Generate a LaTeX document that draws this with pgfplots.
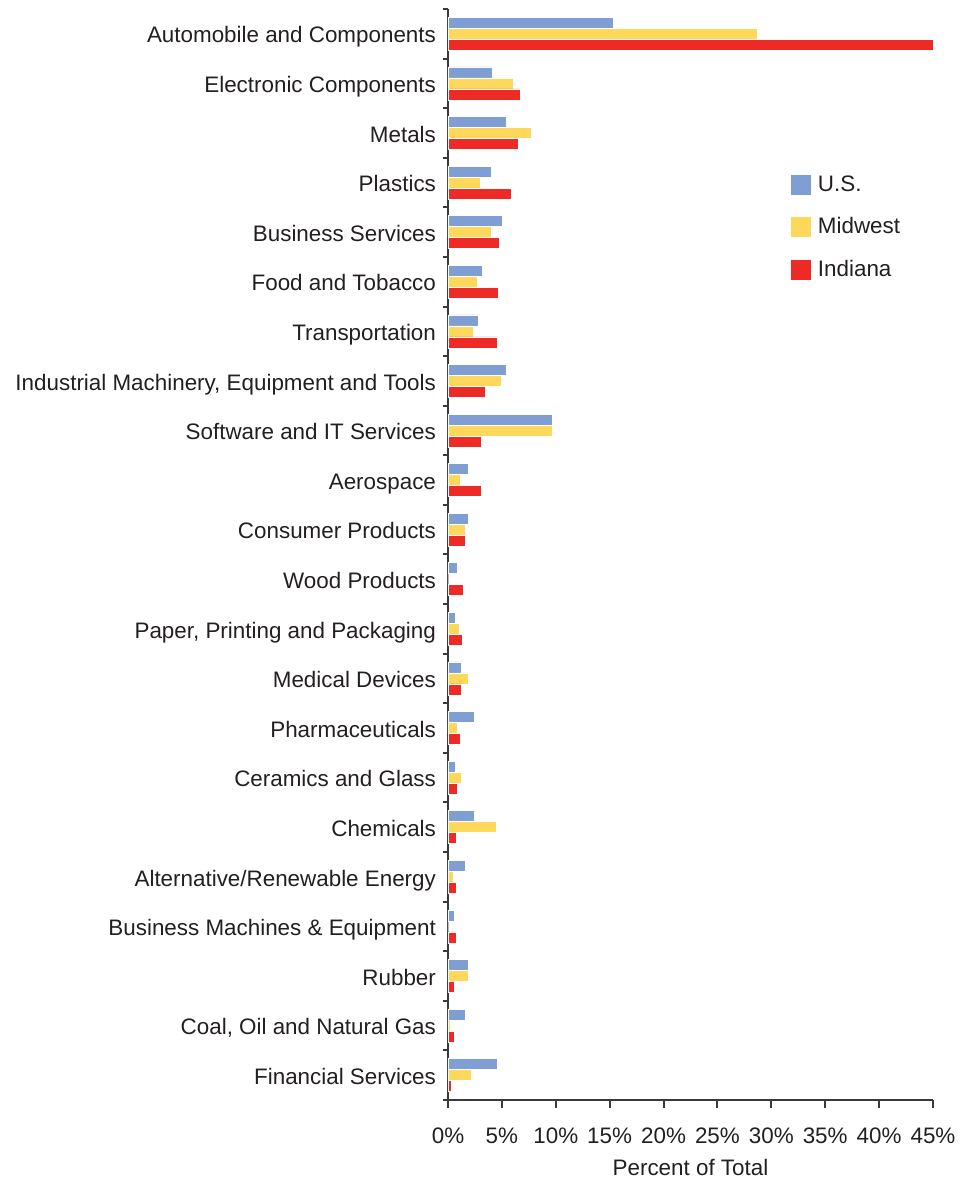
\documentclass[border=0pt]{standalone}
\usepackage{fontspec}
\setmainfont{Liberation Sans}
\usepackage{pgfplots}
\pgfplotsset{compat=1.18}
\usepackage{pgfplotstable}
\definecolor{usblue}{HTML}{7F9FD4}
\definecolor{mwyellow}{HTML}{FDD85B}
\definecolor{inred}{HTML}{EE2A27}
\definecolor{txtgray}{HTML}{231F20}
\definecolor{axgray}{HTML}{3A3A3A}

% y = 21 is the top category
\pgfplotstableread{
y  us    mw    ind
21 15.3  28.7  45.0
20 4.1   6.1   6.7
19 5.4   7.7   6.5
18 4.0   3.0   5.9
17 5.0   4.0   4.8
16 3.2   2.7   4.7
15 2.85  2.35  4.6
14 5.4   4.95  3.5
13 9.7   9.65  3.1
12 1.9   1.1   3.05
11 1.9   1.65  1.65
10 0.9   0     1.45
9  0.7   1.05  1.35
8  1.2   1.9   1.2
7  2.4   0.9   1.1
6  0.7   1.2   0.85
5  2.45  4.5   0.8
4  1.65  0.5   0.75
3  0.6   0     0.75
2  1.85  1.85  0.6
1  1.6   0.2   0.55
0  4.55  2.2   0.3
}\datatab

\begin{document}
\begin{tikzpicture}
\begin{axis}[
  scale only axis, width=242.5pt, height=545.5pt,
  xbar, bar width=5.5pt,
  xmin=0, xmax=45, ymin=-0.5, ymax=21.5,
  axis lines*=left,
  axis line style={draw=axgray, line width=1pt},
  xtick={0,5,...,45},
  xticklabel={\pgfmathprintnumber{\tick}\%},
  ytick={0,...,21},
  yticklabels={Financial Services,{Coal, Oil and Natural Gas},Rubber,
    Business Machines \& Equipment,Alternative/Renewable Energy,Chemicals,
    Ceramics and Glass,Pharmaceuticals,Medical Devices,
    {Paper, Printing and Packaging},Wood Products,Consumer Products,
    Aerospace,Software and IT Services,
    {Industrial Machinery, Equipment and Tools},Transportation,
    Food and Tobacco,Business Services,Plastics,Metals,
    Electronic Components,Automobile and Components},
  minor ytick={-0.5,0.5,...,21.5},
  tick align=outside, major tick length=4pt, minor tick length=2.5pt,
  tick style={axgray, line width=1pt},
  major y tick style={draw=none},
  /pgf/number format/assume math mode=true,
  typeset ticklabels with strut,
  tick label style={font=\fontsize{11.2}{13}\selectfont, text=txtgray},
  y tick label style={xshift=1.5pt, yshift=-2pt},
  x tick label style={yshift=-6.5pt},
  xlabel={Percent of Total},
  xlabel style={font=\fontsize{11.2}{13}\selectfont, text=txtgray, yshift=-1pt},
  legend style={at={(axis description cs:0.694,0.855)}, anchor=north west,
    draw=none, fill=none, font=\fontsize{11.2}{13}\selectfont,
    text=txtgray, row sep=7.75pt,
    /tikz/every odd column/.append style={column sep=1.5pt}},
  legend cell align=left,
  legend image code/.code={\fill[#1, draw=none] (0pt,-5pt) rectangle (10pt,5pt);},
]
\addplot[fill=usblue, draw=white, line width=0.3pt, bar shift=5.5pt]
  table[x=us, y=y] {\datatab};
\addlegendentry{U.S.}
\addplot[fill=mwyellow, draw=white, line width=0.3pt, bar shift=0pt]
  table[x=mw, y=y] {\datatab};
\addlegendentry{Midwest}
\addplot[fill=inred, draw=white, line width=0.3pt, bar shift=-5.5pt]
  table[x=ind, y=y] {\datatab};
\addlegendentry{Indiana}
\end{axis}
\pgfresetboundingbox
\path[use as bounding box] (-224pt,-40pt) rectangle (260.5pt,550pt);
\end{tikzpicture}
\end{document}
